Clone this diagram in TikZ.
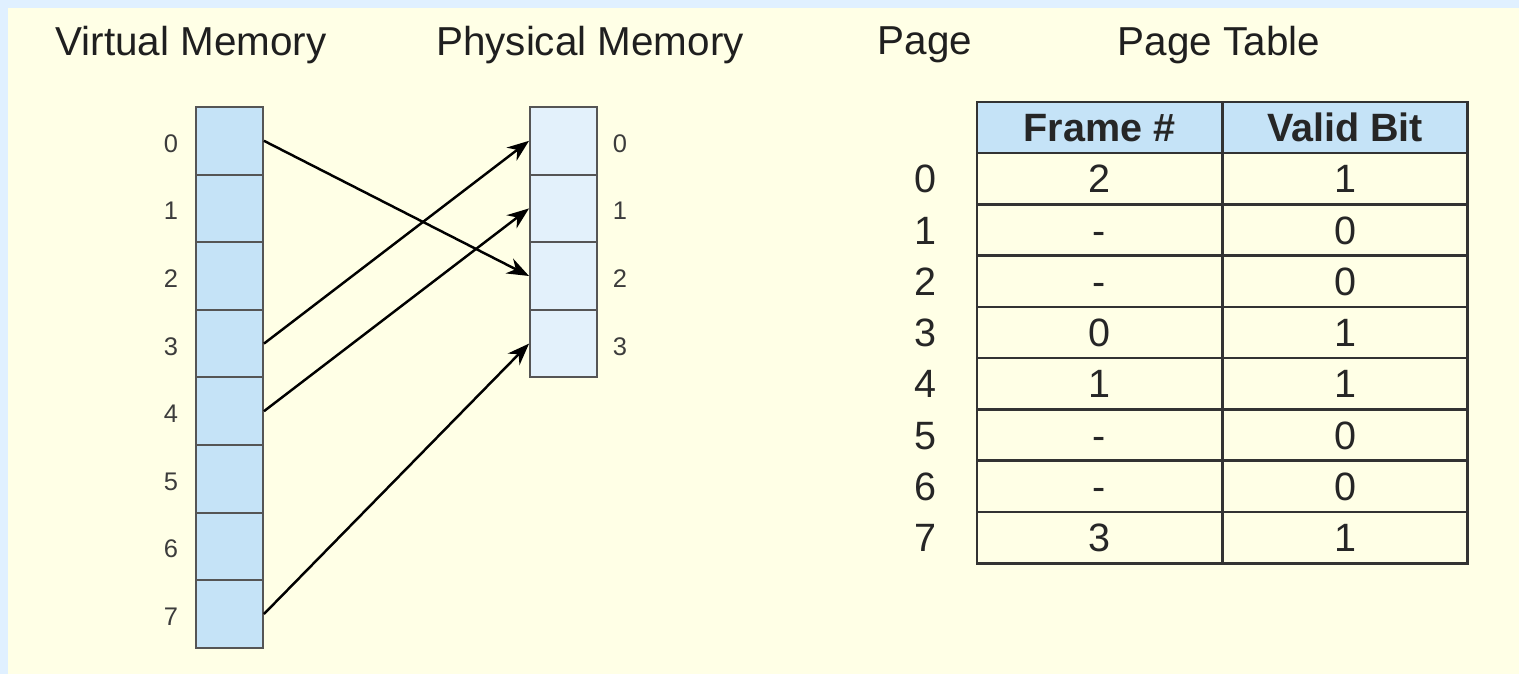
\documentclass[tikz,border=0pt]{standalone}
\usepackage{fontspec}
\setmainfont{Liberation Sans}
\usepackage{tikz}
\usetikzlibrary{arrows.meta,positioning}
\definecolor{bgblue}{RGB}{224,240,255}
\definecolor{bgyellow}{RGB}{255,255,230}
\definecolor{vfill}{RGB}{197,227,247}
\definecolor{pfill}{RGB}{227,241,251}
\definecolor{cellline}{RGB}{85,85,85}
\definecolor{labelgray}{RGB}{60,60,60}
\tikzset{
vcell/.style={draw=cellline, line width=1.1pt, fill=vfill, minimum width=1.34cm, minimum height=1.352cm, inner sep=0pt}, % virtual memory slot
pcell/.style={vcell, fill=pfill}, % physical memory frame
idx/.style={text=labelgray, font=\fontsize{14.5}{17}\selectfont, inner sep=0pt}, % small slot numbers
title/.style={text=black!88, font=\fontsize{23}{27}\selectfont, inner sep=0pt}, % headings
tcell/.style={draw=black!80, line width=1.5pt, minimum width=4.9cm, minimum height=1.026cm, inner sep=0pt, text height=16.1pt, text depth=0pt, text=black!85, font=\fontsize{22.5}{27}\selectfont}, % table cell
thead/.style={tcell, fill=vfill, font=\fontsize{22.5}{27}\selectfont\bfseries},
map/.style={-{Stealth[length=0.44cm, width=0.33cm]}, line width=1.4pt, black}
}
\begin{document}
\begin{tikzpicture}[x=0.02cm, y=-0.02cm]
        \useasboundingbox (0,0) rectangle (1519,674);
        \fill [bgblue] (0,0) rectangle (1519,674);
        \fill [bgyellow] (8,8) rectangle (1519,674);
        % headings
        \node [title] (tvirt) at (191,45) {Virtual Memory};
        \node [title] (tphys) at (590,45) {Physical Memory};
        \node [title] (tpage) at (925,45) {Page};
        \node [title] (ttable) at (1219,45) {Page Table};
        % virtual memory
        \node [vcell] (v0) at (229.5,140.8) {};
        \node [vcell] (v1) at (229.5,208.4) {};
        \node [vcell] (v2) at (229.5,276.0) {};
        \node [vcell] (v3) at (229.5,343.6) {};
        \node [vcell] (v4) at (229.5,411.2) {};
        \node [vcell] (v5) at (229.5,478.8) {};
        \node [vcell] (v6) at (229.5,546.4) {};
        \node [vcell] (v7) at (229.5,614.0) {};
        \node [idx] (vl0) at (171,144) {0};
        \node [idx] (vl1) at (171,211) {1};
        \node [idx] (vl2) at (171,279) {2};
        \node [idx] (vl3) at (171,347) {3};
        \node [idx] (vl4) at (171,414) {4};
        \node [idx] (vl5) at (171,482) {5};
        \node [idx] (vl6) at (171,549) {6};
        \node [idx] (vl7) at (171,617) {7};
        % physical memory
        \node [pcell] (p0) at (563.5,140.8) {};
        \node [pcell] (p1) at (563.5,208.4) {};
        \node [pcell] (p2) at (563.5,276.0) {};
        \node [pcell] (p3) at (563.5,343.6) {};
        \node [idx] (pl0) at (620,144) {0};
        \node [idx] (pl1) at (620,211) {1};
        \node [idx] (pl2) at (620,279) {2};
        \node [idx] (pl3) at (620,347) {3};
        % mappings
        \draw [map] (v0.east) -- (p2.west);
        \draw [map] (v3.east) -- (p0.west);
        \draw [map] (v4.east) -- (p1.west);
        \draw [map] (v7.east) -- (p3.west);
        % page table
        \node [thead] (hframe) at (1099.5,127.5) {Frame \#};
        \node [thead] (hvalid) at (1345,127.5) {Valid Bit};
        \node [tcell] (f0) at (1099.5,178.6) {2};
        \node [tcell] (b0) at (1345,178.6) {1};
        \node [tcell] (f1) at (1099.5,229.9) {-};
        \node [tcell] (b1) at (1345,229.9) {0};
        \node [tcell] (f2) at (1099.5,281.2) {-};
        \node [tcell] (b2) at (1345,281.2) {0};
        \node [tcell] (f3) at (1099.5,332.5) {0};
        \node [tcell] (b3) at (1345,332.5) {1};
        \node [tcell] (f4) at (1099.5,383.8) {1};
        \node [tcell] (b4) at (1345,383.8) {1};
        \node [tcell] (f5) at (1099.5,435.1) {-};
        \node [tcell] (b5) at (1345,435.1) {0};
        \node [tcell] (f6) at (1099.5,486.4) {-};
        \node [tcell] (b6) at (1345,486.4) {0};
        \node [tcell] (f7) at (1099.5,537.7) {3};
        \node [tcell] (b7) at (1345,537.7) {1};
        \node [tcell, draw=none, minimum width=0pt, left=21.5pt of f0] (r0) {0};
        \node [tcell, draw=none, minimum width=0pt, left=21.5pt of f1] (r1) {1};
        \node [tcell, draw=none, minimum width=0pt, left=21.5pt of f2] (r2) {2};
        \node [tcell, draw=none, minimum width=0pt, left=21.5pt of f3] (r3) {3};
        \node [tcell, draw=none, minimum width=0pt, left=21.5pt of f4] (r4) {4};
        \node [tcell, draw=none, minimum width=0pt, left=21.5pt of f5] (r5) {5};
        \node [tcell, draw=none, minimum width=0pt, left=21.5pt of f6] (r6) {6};
        \node [tcell, draw=none, minimum width=0pt, left=21.5pt of f7] (r7) {7};
\end{tikzpicture}
\end{document}
